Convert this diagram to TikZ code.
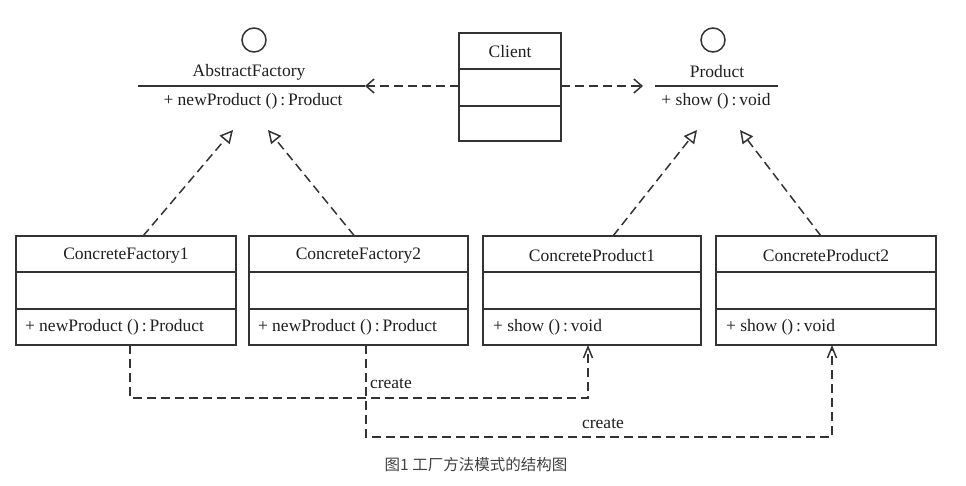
\documentclass[tikz,border=0pt]{standalone}
\usepackage{fontspec}
\setmainfont{Liberation Serif}
\newfontfamily\cjk{Noto Sans CJK SC}
\usetikzlibrary{arrows.meta,calc}
\begin{document}
\begin{tikzpicture}[x=1pt,y=-1pt,
  line width=1.5pt,
  every node/.style={inner sep=0pt,outer sep=0pt},
  txt/.style={font=\fontsize{17.5}{20}\selectfont, text=black!88},
  classbox/.style={draw=black!80,minimum width=220pt,minimum height=109pt},
  divider/.style={draw=black!80,line width=1.5pt},
  realize/.style={draw=black!80,dash pattern=on 9pt off 5pt,-{Triangle[open,length=13pt,width=13pt,line width=1.5pt]}},
  dep/.style={draw=black!80,dash pattern=on 9pt off 5pt,-{Straight Barb[length=8pt,width=14pt,line width=1.5pt]}},
  crt/.style={draw=black!80,dash pattern=on 9pt off 5pt,-{Straight Barb[length=11pt,width=9pt,line width=1.5pt]}},
  iface/.style={draw=black!80,line width=1.5pt,minimum size=24pt,circle}
]
\useasboundingbox (0,0) rectangle (966,485);

% AbstractFactory interface
\node[iface] (afc) at (254,40) {};
\node[txt] (afn) at (249,72) {AbstractFactory};
\coordinate (afl) at (138,86);
\coordinate (afr) at (365,86);
\draw[divider] (afl) -- (afr);
\node[txt] (afm) at (253,101) {+ newProduct ()\,:\,Product};

% Product interface
\node[iface] (prc) at (713,40) {};
\node[txt] (prn) at (717,72) {Product};
\coordinate (prl) at (655,86);
\coordinate (prr) at (778,86);
\draw[divider] (prl) -- (prr);
\node[txt] (prm) at (716,101) {+ show ()\,:\,void};

% Client
\node[classbox,minimum width=102pt,minimum height=108pt] (cl) at (510,87) {};
\draw[divider] (459,69) -- (561,69);
\draw[divider] (459,106) -- (561,106);
\node[txt] (cln) at (510,52) {Client};
\coordinate (clw) at (459,86);
\coordinate (cle) at (561,86);
\coordinate (prtip) at (643,86);
\draw[dep] (clw) -- (afr);
\draw[dep] (cle) -- (prtip);

% Concrete classes
\node[classbox] (cf1) at (126,290.5) {};
\draw[divider] (16,272) -- (236,272);
\draw[divider] (16,309) -- (236,309);
\node[txt] (cf1n) at (126,256) {ConcreteFactory1};
\node[txt,anchor=west] (cf1m) at (25,327) {+ newProduct ()\,:\,Product};

\node[classbox,minimum width=219pt] (cf2) at (358.5,290.5) {};
\draw[divider] (249,272) -- (468,272);
\draw[divider] (249,309) -- (468,309);
\node[txt] (cf2n) at (358.5,256) {ConcreteFactory2};
\node[txt,anchor=west] (cf2m) at (258,327) {+ newProduct ()\,:\,Product};

\node[classbox,minimum width=218pt] (cp1) at (592,290.5) {};
\draw[divider] (483,272) -- (701,272);
\draw[divider] (483,309) -- (701,309);
\node[txt] (cp1n) at (592,256) {ConcreteProduct1};
\node[txt,anchor=west] (cp1m) at (493,327) {+ show ()\,:\,void};

\node[classbox] (cp2) at (826,290.5) {};
\draw[divider] (716,272) -- (936,272);
\draw[divider] (716,309) -- (936,309);
\node[txt] (cp2n) at (826,256) {ConcreteProduct2};
\node[txt,anchor=west] (cp2m) at (726,327) {+ show ()\,:\,void};

% realization arrows
\coordinate (t1) at (233,130);
\coordinate (t2) at (268,130);
\coordinate (t3) at (697,130);
\coordinate (t4) at (740,130);
\draw[realize] ([xshift=17pt]cf1.north) -- (t1);
\draw[realize] ([xshift=-4pt]cf2.north) -- (t2);
\draw[realize] ([xshift=21pt]cp1.north) -- (t3);
\draw[realize] ([xshift=-5pt]cp2.north) -- (t4);

% create dependencies
\coordinate (d1) at (0,398);
\coordinate (d2) at (0,437);
\draw[crt] ([xshift=4pt]cf1.south) |- (d1 -| 588,0) -- ([xshift=-4pt]cp1.south);
\draw[crt] ([xshift=7.5pt]cf2.south) |- (d2 -| 832,0) -- ([xshift=6pt]cp2.south);
\node[txt,anchor=west] (lc1) at (370,384) {create};
\node[txt] (lc2) at (603,424) {create};

% caption
\node[font=\cjk\fontsize{15.5}{18}\selectfont,text=black!75] (cap) at (476,465) {图1 工厂方法模式的结构图};
\end{tikzpicture}
\end{document}
